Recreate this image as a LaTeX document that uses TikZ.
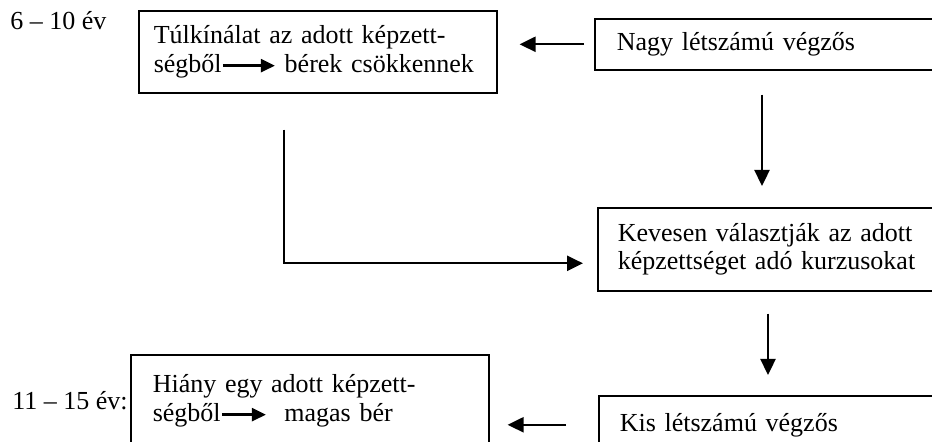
\documentclass[tikz,border=0pt]{standalone}
\usepackage{fontspec}
\setmainfont{Liberation Serif}
\usetikzlibrary{arrows.meta}

\newcommand{\inarrow}[1]{\tikz[baseline=-0.55ex]\draw[-{Triangle[length=7pt,width=6.5pt]}, line width=1.2pt] (0pt,0pt) -- (#1,0pt);}

\tikzset{
  box/.style={draw, line width=0.8pt, anchor=north west, align=left, inner ysep=0pt, font=\fontsize{13}{14.2}\selectfont},
  year/.style={anchor=base west, inner sep=0pt, font=\fontsize{13}{14.2}\selectfont},
  arr/.style={-{Triangle[length=8pt,width=7.5pt]}, line width=1.2pt},
}

\begin{document}
\begin{tikzpicture}[x=0.5pt, y=-0.5pt]
\useasboundingbox (0,0) rectangle (932,442);
\clip (0,0) rectangle (932,442);

\node[year] (ev1) at (10,30) {6 -- 10 év};
\node[year] (ev2) at (12,410) {11 -- 15 év:};

\node[box, inner xsep=7.5pt, text width=164pt, minimum height=41pt] (tul) at (138,10) {Túlkínálat az adott képzett-\\ségből\inarrow{26pt} bérek csökkennek};
\node[box, inner xsep=11pt, text width=156pt, minimum height=25.5pt] (nagy) at (594,18) {Nagy létszámú végzős};
\node[box, inner xsep=10pt, text width=156.5pt, minimum height=41.5pt] (kev) at (597,207) {Kevesen választják az adott\\képzettséget adó kurzusokat};
\node[box, inner xsep=10.5pt, text width=155pt, minimum height=29pt] (kis) at (598,395) {Kis létszámú végzős};
\node[box, inner xsep=11pt, text width=157pt, minimum height=46pt] (hiany) at (130,354) {Hiány egy adott képzett-\\ségből\inarrow{22pt}\ \ magas bér};

\draw [arr, shorten <=5pt, shorten >=11pt] (nagy.west) -- (nagy.west -| tul.east);
\draw [arr, shorten <=12pt, shorten >=10.5pt] ([xshift=84pt]nagy.south west) -- ([xshift=82.5pt]kev.north west);
\draw [arr, shorten <=11pt, shorten >=10pt] ([xshift=85.5pt]kev.south west) -- ([xshift=85pt]kis.north west);
\draw [arr, shorten <=16pt, shorten >=9pt] (kis.west) -- (kis.west -| hiany.east);
\draw [arr] ([xshift=73pt,yshift=-18pt]tul.south west) |- ([xshift=-7pt,yshift=-7pt]kev.west);

\end{tikzpicture}
\end{document}
